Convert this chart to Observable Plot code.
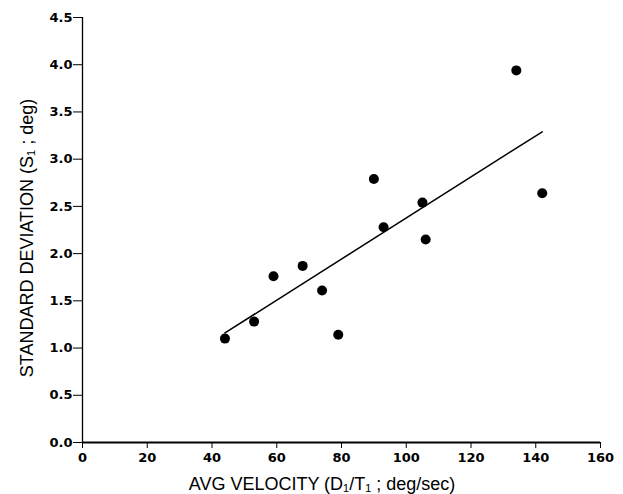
<!DOCTYPE html>
<html>
<head>
<meta charset="utf-8">
<script src="https://cdn.jsdelivr.net/npm/d3@7"></script>
<script src="https://cdn.jsdelivr.net/npm/@observablehq/plot@0.6"></script>
<style>
  body { margin: 0; background: #fff; }
</style>
</head>
<body>
<div id="chart"></div>
<script>
const velocity = [44, 53, 59, 68, 74, 79, 90, 93, 105, 106, 134, 142];
const stdDev   = [1.10, 1.28, 1.76, 1.87, 1.61, 1.14, 2.79, 2.28, 2.54, 2.15, 3.94, 2.64];
const fitX = [44, 142];
const fitY = [1.16, 3.29];
const xTicks = [0, 20, 40, 60, 80, 100, 120, 140, 160];
const yTicks = [0, 0.5, 1, 1.5, 2, 2.5, 3, 3.5, 4, 4.5];
const xLabel = "AVG VELOCITY (D\u2081/T\u2081 ; deg/sec)";
const yLabel = "STANDARD DEVIATION (S\u2081 ; deg)";

const points = velocity.map((v, i) => ({x: v, y: stdDev[i]}));
const fit = fitX.map((v, i) => ({x: v, y: fitY[i]}));

const chart = Plot.plot({
  width: 623,
  height: 494,
  marginLeft: 82,
  marginRight: 23,
  marginTop: 17,
  marginBottom: 52,
  style: {fontFamily: "'DejaVu Sans', sans-serif", fontSize: "13px", fontWeight: "bold",
          color: "#000", background: "#fff"},
  x: {domain: [0, 160]},
  y: {domain: [0, 4.5]},
  marks: [
    Plot.axisX({ticks: xTicks, tickSize: 6, tickPadding: 4, label: null, tickFormat: d3.format("d")}),
    Plot.axisY({ticks: yTicks, tickSize: 9, tickPadding: 1, label: null, tickFormat: d3.format(".1f")}),
    Plot.ruleX([0], {stroke: "#000", strokeWidth: 1.3}),
    Plot.ruleY([0], {stroke: "#000", strokeWidth: 2}),
    Plot.line(fit, {x: "x", y: "y", stroke: "#000", strokeWidth: 1.5}),
    Plot.dot(points, {x: "x", y: "y", r: 5, fill: "#000", stroke: "none"})
  ]
});

const svg = d3.select(chart);
svg.selectAll("g[aria-label$='tick label'], g[aria-label$='tick label'] text")
  .style("font-size", "13px")
  .style("font-weight", "bold")
  .style("font-family", "'DejaVu Sans', sans-serif");

svg.append("text")
  .attr("x", 322).attr("y", 490)
  .attr("text-anchor", "middle")
  .style("font-family", "'Liberation Sans', Arial, sans-serif")
  .style("font-size", "18px")
  .style("font-weight", "normal")
  .attr("fill", "#000")
  .text(xLabel);
svg.append("text")
  .attr("transform", "translate(33,238) rotate(-90)")
  .attr("text-anchor", "middle")
  .style("font-family", "'Liberation Sans', Arial, sans-serif")
  .style("font-size", "18px")
  .style("font-weight", "normal")
  .attr("fill", "#000")
  .text(yLabel);

document.getElementById("chart").appendChild(chart);
</script>
</body>
</html>
